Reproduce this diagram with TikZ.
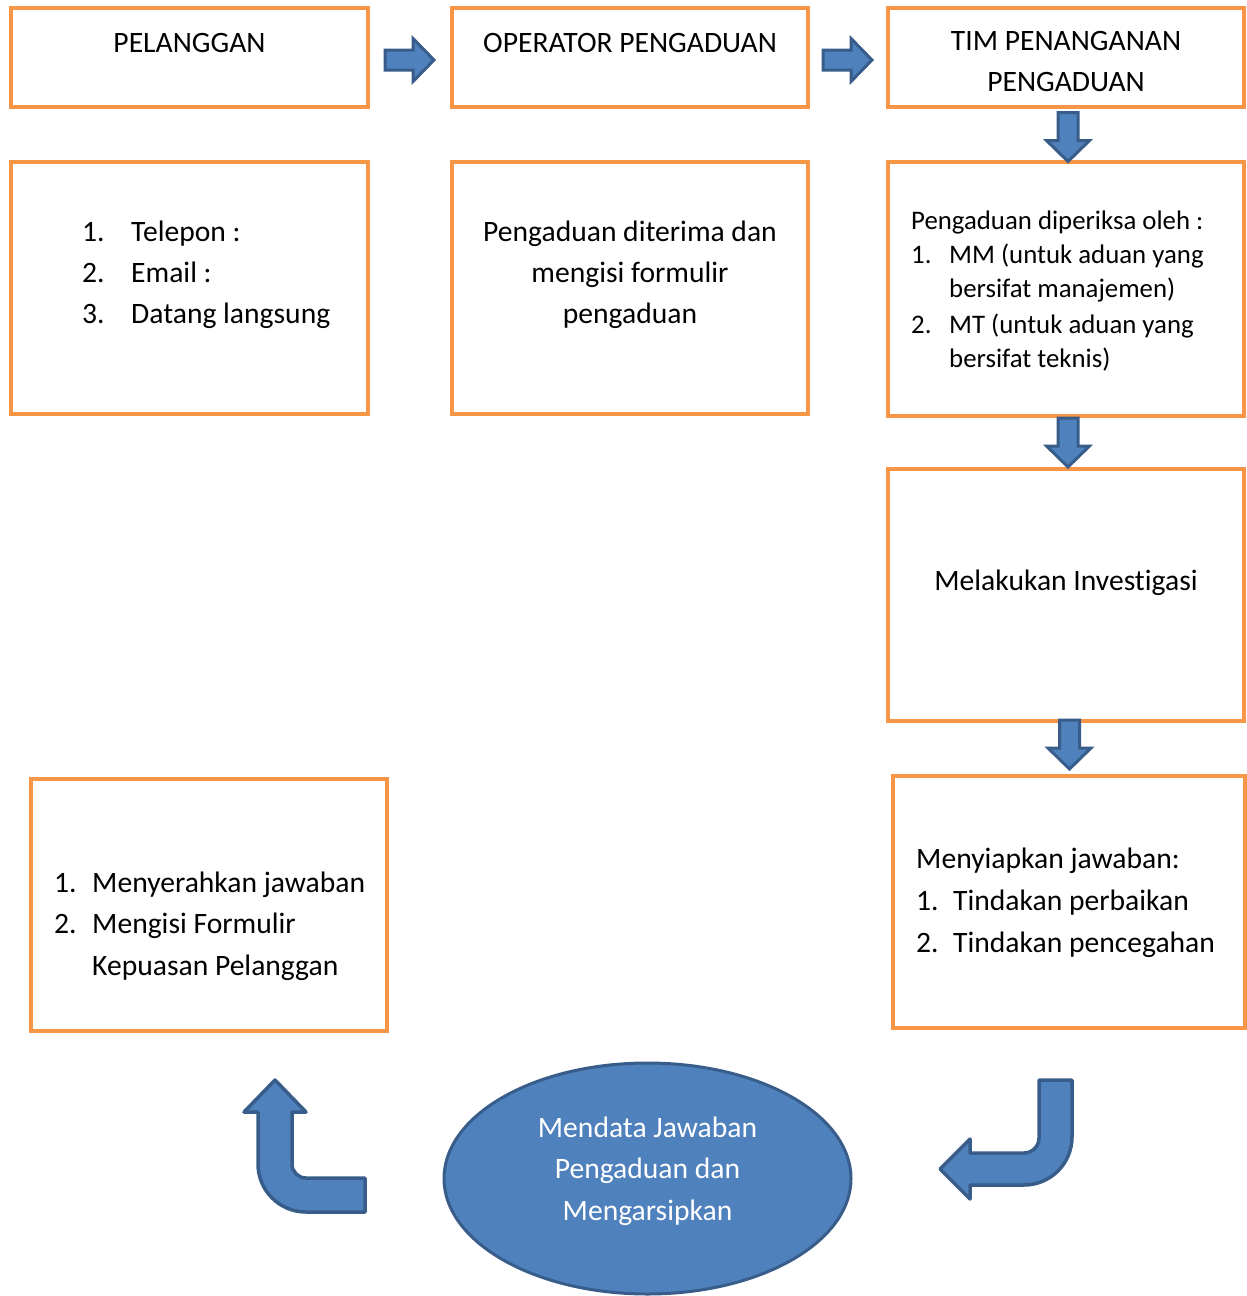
\documentclass[tikz,border=0pt]{standalone}
\usepackage{fontspec}
\setmainfont[Ligatures=NoCommon]{Carlito}
\usetikzlibrary{calc,shapes.geometric}
\definecolor{orng}{HTML}{F79646}
\definecolor{bfill}{HTML}{4F81BD}
\definecolor{bline}{HTML}{385D8A}
\begin{document}
\begin{tikzpicture}[x=1pt,y=-1pt,
  box/.style={draw=orng,line width=4pt,inner sep=0pt,outer sep=0pt,fill=white},
  arrowstyle/.style={draw=bline,fill=bfill,line width=3pt,line join=miter},
  bentstyle/.style={draw=bline,fill=bfill,line width=3.5pt,line join=round},
  txt/.style={font=\fontsize{29.6}{41}\selectfont,inner sep=0pt,anchor=base west},
  ctxt/.style={font=\fontsize{29.6}{41}\selectfont,inner sep=0pt,anchor=base},
  stxt/.style={font=\fontsize{26.8}{34}\selectfont,inner sep=0pt,anchor=base west},
  wtxt/.style={font=\fontsize{29.6}{41}\selectfont,inner sep=0pt,anchor=base,text=white},
  blockarrow/.pic={
    \draw[arrowstyle] (0,-10) -- (28,-10) -- (28,-21.5) -- (49,0) -- (28,21.5) -- (28,10) -- (0,10) -- cycle;
  }]
\useasboundingbox (0,0) rectangle (1247,1296);

% boxes
\node[box,minimum width=357pt,minimum height=99pt] (b1) at (189.5,57.5) {};
\node[box,minimum width=356pt,minimum height=99pt] (b2) at (630,57.5) {};
\node[box,minimum width=356pt,minimum height=99pt] (b3) at (1066,57.5) {};
\node[box,minimum width=357pt,minimum height=252pt] (b4) at (189.5,288) {};
\node[box,minimum width=356pt,minimum height=252pt] (b5) at (630,288) {};
\node[box,minimum width=356pt,minimum height=254pt] (b6) at (1066,289) {};
\node[box,minimum width=356pt,minimum height=252pt] (b7) at (1066,595) {};
\node[box,minimum width=352pt,minimum height=252pt] (b8) at (1069,902) {};
\node[box,minimum width=356pt,minimum height=252pt] (b9) at (209,905) {};
\node[draw=bline,fill=bfill,line width=3pt,ellipse,minimum width=407pt,minimum height=231pt,inner sep=0pt] (e) at (647.5,1178.5) {};

% box texts
\node[ctxt] (t1) at (189.5,52) {PELANGGAN};
\node[ctxt] (t2) at (630,52) {OPERATOR PENGADUAN};
\node[ctxt] (t3a) at (1066,50) {TIM PENANGANAN};
\node[ctxt] (t3b) at (1066,91) {PENGADUAN};

\node[txt] (t4a) at (82,241) {1.};
\node[txt] (t4b) at (131,241) {Telepon :};
\node[txt] (t4c) at (82,282) {2.};
\node[txt] (t4d) at (131,282) {Email :};
\node[txt] (t4e) at (82,323) {3.};
\node[txt] (t4f) at (131,323) {Datang langsung};

\node[ctxt] (t5a) at (630,241) {Pengaduan diterima dan};
\node[ctxt] (t5b) at (630,282) {mengisi formulir};
\node[ctxt] (t5c) at (630,323) {pengaduan};

\node[stxt] (t6a) at (911,229) {Pengaduan diperiksa oleh :};
\node[stxt] (t6b) at (911,263) {1.};
\node[stxt] (t6c) at (949,263) {MM (untuk aduan yang};
\node[stxt] (t6d) at (949,297) {bersifat manajemen)};
\node[stxt] (t6e) at (911,333) {2.};
\node[stxt] (t6f) at (949,333) {MT (untuk aduan yang};
\node[stxt] (t6g) at (949,367) {bersifat teknis)};

\node[ctxt] (t7) at (1066,590) {Melakukan Investigasi};

\node[txt] (t8a) at (916,868) {Menyiapkan jawaban:};
\node[txt] (t8b) at (916,910) {1.};
\node[txt] (t8c) at (953,910) {Tindakan perbaikan};
\node[txt] (t8d) at (916,952) {2.};
\node[txt] (t8e) at (953,952) {Tindakan pencegahan};

\node[txt] (t9a) at (54,892) {1.};
\node[txt] (t9b) at (92,892) {Menyerahkan jawaban};
\node[txt] (t9c) at (54,933) {2.};
\node[txt] (t9d) at (92,933) {Mengisi Formulir};
\node[txt] (t9e) at (92,975) {Kepuasan Pelanggan};

\node[wtxt] (te1) at (647.5,1137) {Mendata Jawaban};
\node[wtxt] (te2) at (647.5,1178) {Pengaduan dan};
\node[wtxt] (te3) at (647.5,1220) {Mengarsipkan};

% straight block arrows between boxes
\coordinate (a1) at ($(b1.east)!0.5!(b2.west)+(-25,2.5)$);
\coordinate (a2) at ($(b2.east)!0.5!(b3.west)+(-25,2.5)$);
\coordinate (a3) at ($(b3.south)!0.5!(b6.north)+(2,-22)$);
\coordinate (a4) at ($(b6.south)!0.5!(b7.north)+(2,-24.5)$);
\coordinate (a5) at ($(b7.south)!0.5!(b8.north)+(2,-28.5)$);
\pic at (a1) {blockarrow};
\pic at (a2) {blockarrow};
\pic[rotate=-90] at (a3) {blockarrow};
\pic[rotate=-90] at (a4) {blockarrow};
\pic[rotate=-90] at (a5) {blockarrow};

% bent arrow from b8 to ellipse
\draw[bentstyle] (1039,1080) -- (1072,1080) -- (1072,1137)
  arc[start angle=0,end angle=90,radius=48] -- (970,1185) -- (970,1199)
  -- (940,1169) -- (970,1139) -- (970,1153) -- (1024,1153)
  arc[start angle=90,end angle=0,radius=15] -- cycle;

% bent arrow from ellipse to b9
\draw[bentstyle] (275,1080) -- (306,1112) -- (292,1112) -- (292,1164)
  arc[start angle=180,end angle=90,radius=14] -- (365,1178) -- (365,1212)
  -- (306,1212) arc[start angle=90,end angle=180,radius=48]
  -- (258,1112) -- (244,1112) -- cycle;
\end{tikzpicture}
\end{document}
